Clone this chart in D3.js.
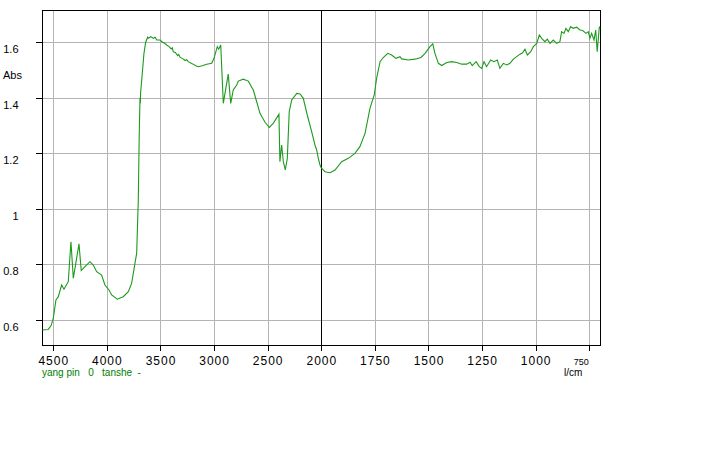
<!DOCTYPE html>
<html><head><meta charset="utf-8">
<script src="https://cdn.jsdelivr.net/npm/d3@7"></script>
<style>
html,body{margin:0;padding:0;background:#fff;}
svg{display:block;}
text{font-family:"Liberation Sans",Arial,sans-serif;}
</style></head>
<body>
<svg id="chart" width="720" height="450"></svg>
<script>
// wavenumbers (cm-1)
const wavenumbers = [4600,4547,4520,4500,4475,4453,4422,4400,4360,4335,4313,4260,4239,4204,4158,4127,4095,4049,4018,3980,3955,3903,3847,3800,3769,3738,3722,3707,3698,3691,3688,3685,3675,3654,3638,3620,3614,3590,3567,3550,3535,3505,3480,3460,3442,3420,3400,3390,3381,3360,3340,3330,3318,3290,3270,3255,3241,3200,3170,3147,3110,3069,3022,3001,2970,2957,2938,2914,2868,2845,2821,2789,2774,2728,2681,2634,2572,2525,2485,2448,2395,2386,2370,2354,2336,2317,2299,2276,2229,2198,2168,2131,2090,2059,2043,2028,2012,2001,1983,1959,1936,1905,1874,1843,1820,1796,1773,1753,1742,1726,1711,1690,1672,1652,1633,1625,1594,1563,1535,1516,1493,1480,1470,1454,1438,1415,1392,1368,1345,1322,1306,1296,1278,1263,1252,1241,1229,1210,1195,1179,1167,1151,1135,1120,1104,1089,1073,1061,1050,1039,1023,1011,995,983,972,957,946,933,918,902,887,879,868,859,848,837,825,809,793,781,765,755,747,739,728,720,713,703,700];
// absorbance
const absorbance = [0.564,0.566,0.580,0.606,0.672,0.684,0.726,0.711,0.738,0.882,0.750,0.874,0.778,0.792,0.810,0.798,0.774,0.762,0.726,0.708,0.690,0.675,0.684,0.702,0.732,0.804,0.840,1.030,1.270,1.400,1.380,1.420,1.464,1.560,1.600,1.618,1.614,1.620,1.614,1.618,1.608,1.608,1.600,1.596,1.590,1.584,1.576,1.580,1.566,1.562,1.552,1.556,1.546,1.540,1.534,1.537,1.530,1.522,1.515,1.512,1.515,1.521,1.524,1.542,1.584,1.575,1.590,1.380,1.485,1.380,1.428,1.446,1.460,1.467,1.460,1.428,1.344,1.312,1.293,1.308,1.341,1.170,1.230,1.170,1.140,1.182,1.350,1.392,1.416,1.414,1.398,1.338,1.278,1.230,1.212,1.182,1.158,1.148,1.134,1.130,1.140,1.170,1.182,1.200,1.224,1.272,1.362,1.410,1.470,1.530,1.545,1.560,1.554,1.542,1.548,1.540,1.536,1.539,1.545,1.560,1.584,1.594,1.560,1.524,1.516,1.527,1.530,1.527,1.521,1.521,1.528,1.516,1.530,1.512,1.506,1.530,1.512,1.536,1.530,1.536,1.506,1.524,1.518,1.524,1.539,1.548,1.557,1.562,1.575,1.554,1.566,1.584,1.596,1.626,1.614,1.602,1.611,1.596,1.608,1.596,1.602,1.638,1.632,1.650,1.638,1.656,1.650,1.654,1.644,1.642,1.632,1.638,1.614,1.632,1.608,1.644,1.566,1.656,1.650];

const xMajorTicks = [4500,4000,3500,3000,2500,2000,1750,1500,1250,1000,750];
const xMinorTicks = d3.range(4600,2000,-100).concat(d3.range(2000,700,-50));
const yMajorTicks = [0.6,0.8,1,1.2,1.4,1.6];
const yMinorTicks = d3.range(0.52,1.70,0.04);
const yLabel = "Abs";
const xUnit = "l/cm";
const legendText = "yang pin   0   tanshe  -";

const svg = d3.select("#chart");
const L=42, R=600, T=10, B=345;
const x = d3.scaleLinear().domain([4605,2000,700]).range([L,321.3,R]);
const y = d3.scaleLinear().domain([0.51,1.716]).range([B,T]);

// gridlines
const grid = svg.append("g").attr("shape-rendering","crispEdges");
grid.selectAll("line.h").data(yMajorTicks).join("line")
  .attr("x1",L).attr("x2",R).attr("y1",d=>Math.round(y(d))+0.5).attr("y2",d=>Math.round(y(d))+0.5)
  .attr("stroke","#b4b4b4");
grid.selectAll("line.v").data(xMajorTicks).join("line")
  .attr("y1",T).attr("y2",B).attr("x1",d=>Math.round(x(d))+0.5).attr("x2",d=>Math.round(x(d))+0.5)
  .attr("stroke",d=>d===2000?"#000":"#b4b4b4");

// frame top/right
svg.append("path").attr("d",`M${L},${T+0.5}H${R+0.5}V${B}`).attr("fill","none").attr("stroke","#000").attr("shape-rendering","crispEdges");

// axes
const xAxisMinor = d3.axisBottom(x).tickValues(xMinorTicks).tickSize(4).tickFormat("");
const xAxis = d3.axisBottom(x).tickValues(xMajorTicks).tickSize(5).tickSizeOuter(0).tickPadding(6)
  .tickFormat(d=>d===750?"":String(d));
const gx = svg.append("g").attr("transform",`translate(0,${B+0.5})`);
gx.call(xAxisMinor); gx.call(xAxis);
gx.selectAll(".domain").attr("d",`M${L},0H${R+1}`);
gx.selectAll("line").attr("stroke","#000").attr("shape-rendering","crispEdges");
gx.selectAll("text").attr("font-size",12).attr("letter-spacing","1px").attr("fill","#000");

const yAxisMinor = d3.axisLeft(y).tickValues(yMinorTicks).tickSize(5).tickFormat("");
const yAxis = d3.axisLeft(y).tickValues(yMajorTicks).tickSize(7).tickSizeOuter(0).tickFormat(d3.format("~g"));
const gy = svg.append("g").attr("transform",`translate(${L+0.5},0)`);
gy.call(yAxisMinor); gy.call(yAxis);
gy.selectAll(".domain").attr("d",`M0,${T}V${B+1}`);
gy.selectAll("line").attr("stroke","#000").attr("shape-rendering","crispEdges");
gy.selectAll("text").attr("font-size",11).attr("fill","#000").attr("x",-24).attr("dy","0.95em");

// axis extra labels
svg.append("text").attr("x",3).attr("y",79).attr("font-size",11).text(yLabel);
svg.append("text").attr("x",x(750)-8).attr("y",365).attr("font-size",9).attr("text-anchor","middle").text("750");
svg.append("text").attr("x",x(750)-16).attr("y",376).attr("font-size",10).attr("text-anchor","middle").text(xUnit);
svg.append("text").attr("x",42).attr("y",376).attr("font-size",10).attr("fill","#008000").attr("xml:space","preserve").style("white-space","pre").text(legendText);

// spectrum
const pts = wavenumbers.map((w,i)=>[w,absorbance[i]]);
svg.append("path").datum(pts)
  .attr("fill","none").attr("stroke","#1c9a1c").attr("stroke-width",1.1)
  .attr("d",d3.line().x(d=>x(d[0])).y(d=>y(d[1])));
</script>
</body></html>
